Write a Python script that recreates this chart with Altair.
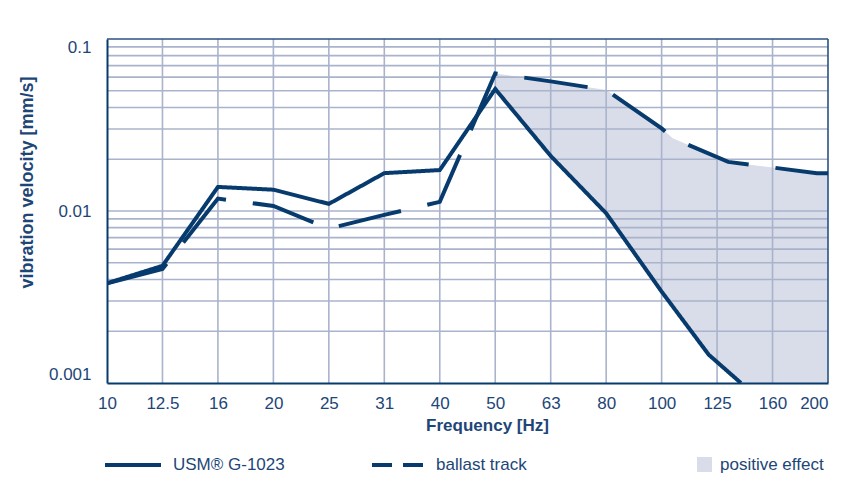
import json
import altair as alt
import pandas as pd

# ---------------- data ----------------
freq_labels = ["10", "12.5", "16", "20", "25", "31", "40", "50", "63", "80", "100", "125", "160", "200"]
band_ticks = list(range(len(freq_labels)))

usm_pos = [0, 1, 2, 3, 4, 5, 6, 7, 8, 9, 10, 10.85, 11.43]
usm_val = [0.0038, 0.0048, 0.0138, 0.0133, 0.0110, 0.0166, 0.0173, 0.0512, 0.0209, 0.0097, 0.0034, 0.00146, 0.001]

ballast_pos = [0, 1, 2, 3, 4, 5, 6, 7, 8, 9, 10, 10.2, 11.2, 12, 12.8, 13]
ballast_val = [0.0038, 0.0046, 0.0118, 0.0107, 0.0079, 0.0095, 0.0113, 0.063, 0.0567, 0.0505, 0.0302, 0.0265, 0.0193, 0.0179, 0.0166, 0.0166]

y_ticks = [0.001, 0.01, 0.1]
y_tick_labels = ["0.001", "0.01", "0.1"]
v_grid = list(range(1, 13))
h_grid = [0.002, 0.003, 0.004, 0.005, 0.006, 0.007, 0.008, 0.009, 0.01,
          0.02, 0.03, 0.04, 0.05, 0.06, 0.07, 0.08, 0.09]
border_x = [13]
border_y = [0.1]

usm_name = "USM\u00ae G-1023"
ballast_name = "ballast track"
effect_name = "positive effect"
effect_start = 7

# ---------------- styling ----------------
NAVY = "#073b6e"
TEXT = "#1d4677"
GRID = "#a9b3cb"
FILL = "#d9dce9"
BORDER = "#2b5283"
FONT = "Liberation Sans"

usm_df = pd.DataFrame({"s_usm": usm_name, "pos": usm_pos, "val": usm_val})
ballast_df = pd.DataFrame({"s_ballast": ballast_name, "pos": ballast_pos, "val": ballast_val})
fill_df = pd.DataFrame({"pos": ballast_pos, "val": ballast_val})
fill_df = fill_df[fill_df.pos >= effect_start].assign(effect=effect_name)
white_df = pd.DataFrame({"pos": usm_pos, "val": usm_val})
white_df = white_df[white_df.pos >= effect_start]

xscale = alt.Scale(domain=[band_ticks[0], band_ticks[-1]], nice=False, zero=False)
yscale = alt.Scale(type="log", domain=[y_ticks[0], y_ticks[-1]], nice=False)

x_axis = alt.Axis(
    values=band_ticks,
    labelExpr=f"{json.dumps(freq_labels)}[datum.value]",
    grid=False, ticks=False,
    domainColor=NAVY, domainWidth=2,
    labelFont=FONT, labelFontSize=17, labelColor=TEXT, labelPadding=12,
    labelAlign={"condition": {"test": f"datum.value == {band_ticks[-1]}", "value": "right"}, "value": "center"},
    title="Frequency [Hz]", titleFont=FONT, titleFontSize=17, titleFontWeight="bold",
    titleColor=TEXT, titleX=380, titleY=42, titleAlign="center", titleBaseline="middle",
    zindex=1,
)
y_axis = alt.Axis(
    values=y_ticks,
    labelExpr=f"{json.dumps(y_tick_labels)}[indexof({json.dumps(y_ticks)}, datum.value)]",
    grid=False, ticks=False,
    domainColor=NAVY, domainWidth=2,
    labelFont=FONT, labelFontSize=17, labelColor=TEXT, labelPadding=16, labelFlush=True,
    title="vibration velocity [mm/s]", titleFont=FONT, titleFontSize=18, titleFontWeight="bold",
    titleColor=TEXT, titleX=-80, titleY=143, titleAngle=270, titleAlign="center",
    titleBaseline="middle",
    zindex=1,
)

X = alt.X("pos:Q", scale=xscale, axis=x_axis)
Y = alt.Y("val:Q", scale=yscale, axis=y_axis)

leg_common = dict(title=None, orient="none", labelFont=FONT, labelFontSize=17,
                  labelColor=TEXT, padding=0, labelLimit=300)

fill_layer = alt.Chart(fill_df).mark_area(clip=True, interpolate="linear").encode(
    x=X, y=Y, y2=alt.datum(y_ticks[0]),
    fill=alt.Fill("effect:N",
                  scale=alt.Scale(domain=[effect_name], range=[FILL]),
                  legend=alt.Legend(legendX=589, legendY=417,
                                    symbolType="square", symbolSize=225, symbolStrokeWidth=0,
                                    labelOffset=7, **leg_common)),
)

white_layer = alt.Chart(white_df).mark_area(clip=True, color="white", interpolate="linear").encode(
    x=X, y=Y, y2=alt.datum(y_ticks[0]),
)

vgrid_layer = alt.Chart(pd.DataFrame({"pos": v_grid})).mark_rule(color=GRID, strokeWidth=1.6).encode(
    x=alt.X("pos:Q", scale=xscale),
)
hgrid_layer = alt.Chart(pd.DataFrame({"val": h_grid})).mark_rule(color=GRID, strokeWidth=1.6).encode(
    y=alt.Y("val:Q", scale=yscale),
)
vborder_layer = alt.Chart(pd.DataFrame({"pos": border_x})).mark_rule(color=BORDER, strokeWidth=1.6).encode(
    x=alt.X("pos:Q", scale=xscale),
)
hborder_layer = alt.Chart(pd.DataFrame({"val": border_y})).mark_rule(color=BORDER, strokeWidth=1.6).encode(
    y=alt.Y("val:Q", scale=yscale),
)

usm_layer = alt.Chart(usm_df).mark_line(clip=True, color=NAVY, strokeWidth=4, strokeCap="butt").encode(
    x=X, y=Y,
    strokeDash=alt.StrokeDash(
        "s_usm:N",
        scale=alt.Scale(domain=[usm_name], range=[[1, 0]]),
        legend=alt.Legend(legendX=-4, legendY=396,
                          symbolType="stroke", symbolSize=3136, symbolStrokeWidth=4,
                          symbolStrokeColor=NAVY, labelOffset=10, **leg_common),
    ),
    order=alt.Order("pos:Q"),
)

ballast_layer = alt.Chart(ballast_df).mark_line(clip=True, color=NAVY, strokeWidth=4, strokeCap="butt").encode(
    x=X, y=Y,
    strokeDash=alt.value([64, 27]),
    opacity=alt.Opacity(
        "s_ballast:N",
        scale=alt.Scale(domain=[ballast_name], range=[1]),
        legend=alt.Legend(legendX=263, legendY=398.5,
                          symbolType="stroke", symbolSize=2601, symbolStrokeWidth=4,
                          symbolStrokeColor=NAVY, symbolDash=[20, 11, 20, 300],
                          labelOffset=11, **leg_common),
    ),
    order=alt.Order("pos:Q"),
)

chart = alt.layer(
    fill_layer, white_layer, vgrid_layer, hgrid_layer, vborder_layer, hborder_layer,
    usm_layer, ballast_layer
).properties(
    width=721, height=344,
    autosize=alt.AutoSizeParams(type="none"),
    padding={"left": 99, "top": 31, "right": 21, "bottom": 102},
    background="white",
).configure_view(stroke=None)

chart.save("out.html", embed_options={"renderer": "svg", "actions": False})
